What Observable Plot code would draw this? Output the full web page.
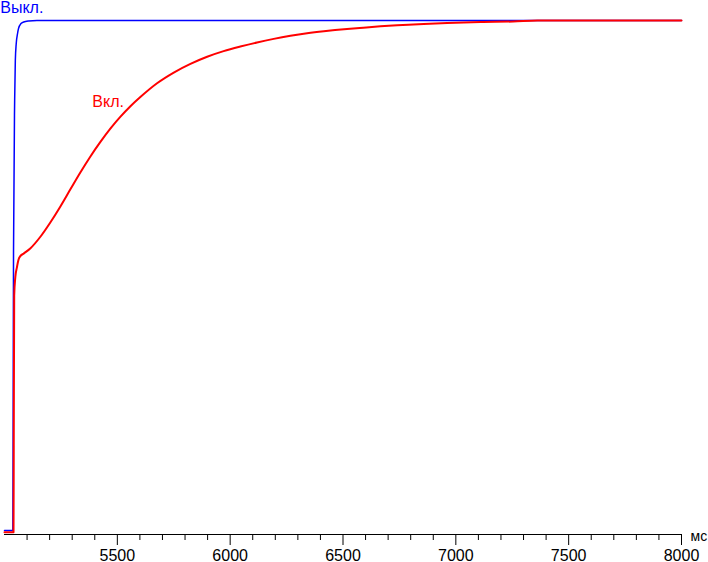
<!DOCTYPE html>
<html>
<head>
<meta charset="utf-8">
<script src="https://cdn.jsdelivr.net/npm/d3@7"></script>
<script src="https://cdn.jsdelivr.net/npm/@observablehq/plot@0.6"></script>
<style>
  html, body { margin: 0; padding: 0; background: #fff; }
  #chart svg { display: block; }
</style>
</head>
<body>
<div id="chart"></div>
<script>
// Blue series "Выкл." (off): time in ms, response in %
const offTime  = [5000, 5037, 5038, 5040, 5045, 5048, 5052, 5058, 5062, 5073, 5085, 5107, 5144, 8000];
const offValue = [0,    0,    15.7, 54.9, 84.3, 92.2, 95.5, 97.5, 98.4, 99.4, 99.7, 99.9, 100,  100];

// Red series "Вкл." (on)
const onTime  = [5000, 5040, 5041, 5043, 5048, 5055, 5062, 5070, 5085, 5114, 5159, 5203, 5247, 5292, 5336, 5380, 5425, 5469, 5513, 5558, 5602, 5676, 5750, 5824, 5898, 5971, 6045, 6119, 6193, 6267, 6341, 6415, 6518, 6590, 6666, 6740, 6812, 6962, 7109, 7255, 7362, 8000];
const onValue = [-0.33, -0.33, 16.7, 46.1, 49.7, 51.6, 53.1, 53.8, 54.3, 55.3, 57.6, 60.4, 63.5, 66.9, 70.2, 73.3, 76.2, 78.8, 81.1, 83.2, 85.0, 87.7, 89.8, 91.5, 92.9, 94.0, 94.9, 95.7, 96.4, 97.0, 97.5, 97.9, 98.35, 98.6, 98.85, 99.05, 99.2, 99.5, 99.7, 99.8, 100, 100];

// Axis ticks
const majorTicks = [5500, 6000, 6500, 7000, 7500, 8000];
const minorTicks = d3.range(5100, 8000, 100).filter(t => t % 500 !== 0);
const unitLabel = ["мс"];

// Series labels
const labelText  = ["Выкл.", "Вкл."];
const labelTime  = [4981, 5389];
const labelValue = [101.5, 83.0];
const labelColor = ["#0000ff", "#ff0000"];

const off = offTime.map((t, i) => ({t, v: offValue[i]}));
const on = onTime.map((t, i) => ({t, v: onValue[i]}));
const labels = labelText.map((s, i) => ({s, t: labelTime[i], v: labelValue[i], c: labelColor[i]}));

const chart = Plot.plot({
  width: 708,
  height: 562,
  marginLeft: 4,
  marginRight: 27,
  marginTop: 20,
  marginBottom: 28,
  style: {fontFamily: "'Liberation Sans', Arial, sans-serif", fontSize: "16px", background: "#fff", color: "#000"},
  x: {domain: [5000, 8000], axis: null},
  y: {domain: [-0.78, 100], axis: null},
  marks: [
    Plot.frame({anchor: "bottom", stroke: "#000"}),
    Plot.axisX(minorTicks, {anchor: "bottom", tickSize: 6, tickFormat: () => "", label: null, stroke: "#000"}),
    Plot.axisX(majorTicks, {anchor: "bottom", tickSize: 11, tickPadding: 4, tickFormat: d => String(d), label: null, fontSize: 16, stroke: "#000", fill: "#000"}),
    Plot.text(unitLabel, {x: [8000], y: [-0.78], dx: 9, dy: 6, text: d => d, textAnchor: "start", lineAnchor: "bottom", fontSize: 14, fill: "#000"}),
    Plot.line(off, {x: "t", y: "v", stroke: "#0000ff", strokeWidth: 1.5, curve: "monotone-x"}),
    Plot.line(on, {x: "t", y: "v", stroke: "#ff0000", strokeWidth: 2, curve: "monotone-x"}),
    Plot.text(labels, {x: "t", y: "v", text: "s", fill: "c", textAnchor: "start", lineAnchor: "bottom", fontSize: 16})
  ]
});
document.getElementById("chart").appendChild(chart);
</script>
</body>
</html>
